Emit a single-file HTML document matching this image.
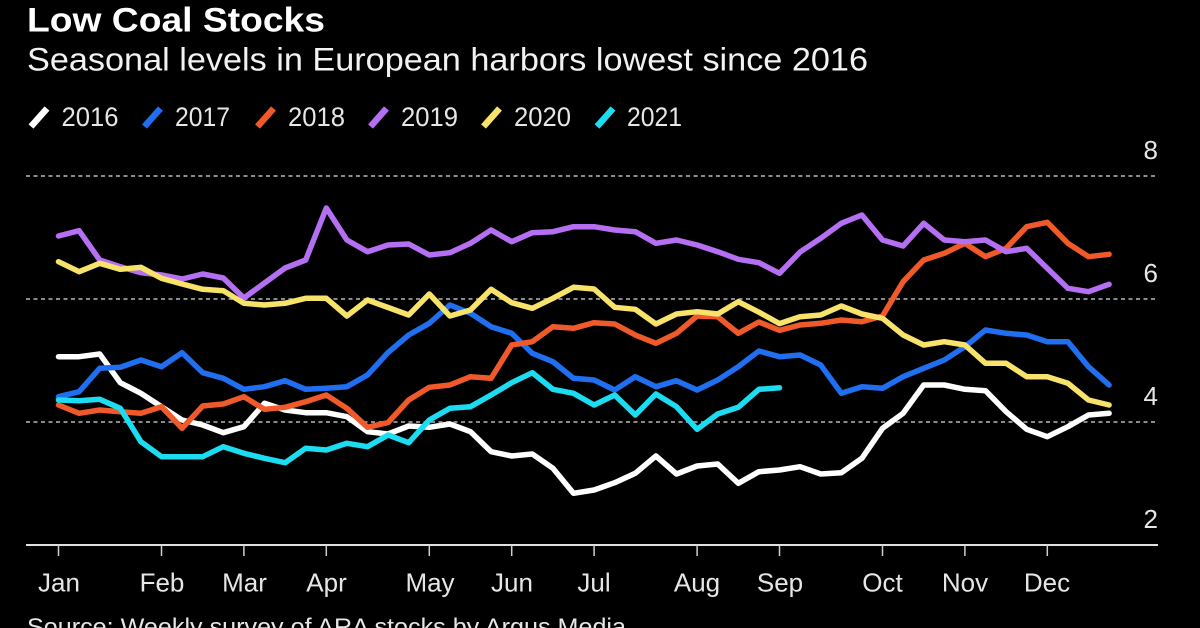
<!DOCTYPE html>
<html>
<head>
<meta charset="utf-8">
<style>
html,body{margin:0;padding:0;background:#000;}
svg{display:block;}
text{font-family:"Liberation Sans",sans-serif;}
</style>
</head>
<body>
<svg width="1200" height="628" viewBox="0 0 1200 628" xmlns="http://www.w3.org/2000/svg">
<rect x="0" y="0" width="1200" height="628" fill="#000"/>

<!-- Title -->
<text x="27" y="31.5" font-size="34" font-weight="bold" fill="#fff" textLength="298" lengthAdjust="spacingAndGlyphs">Low Coal Stocks</text>
<text x="27" y="70.5" font-size="32" fill="#f2f2f2" textLength="841" lengthAdjust="spacingAndGlyphs">Seasonal levels in European harbors lowest since 2016</text>

<!-- Legend -->
<g stroke-width="6.5" stroke-linecap="butt">
  <line x1="31" y1="126.5" x2="47" y2="108.5" stroke="#ffffff"/>
  <line x1="144.5" y1="126.5" x2="160.5" y2="108.5" stroke="#1f6ff0"/>
  <line x1="257.5" y1="126.5" x2="273.5" y2="108.5" stroke="#f05a2a"/>
  <line x1="370.5" y1="126.5" x2="386.5" y2="108.5" stroke="#b56ff2"/>
  <line x1="483.5" y1="126.5" x2="499.5" y2="108.5" stroke="#f7e36a"/>
  <line x1="597" y1="126.5" x2="613" y2="108.5" stroke="#1cdcf2"/>
</g>
<g font-size="27" fill="#e6e6e6">
  <text x="61.5" y="126" textLength="57" lengthAdjust="spacingAndGlyphs">2016</text>
  <text x="175" y="126" textLength="55" lengthAdjust="spacingAndGlyphs">2017</text>
  <text x="288" y="126" textLength="57" lengthAdjust="spacingAndGlyphs">2018</text>
  <text x="401" y="126" textLength="57" lengthAdjust="spacingAndGlyphs">2019</text>
  <text x="514" y="126" textLength="57" lengthAdjust="spacingAndGlyphs">2020</text>
  <text x="627" y="126" textLength="55" lengthAdjust="spacingAndGlyphs">2021</text>
</g>

<!-- Gridlines -->
<g stroke="#8a8a8a" stroke-width="2" stroke-dasharray="4 3.5">
  <line x1="26" y1="176" x2="1158" y2="176"/>
  <line x1="26" y1="299" x2="1158" y2="299"/>
  <line x1="26" y1="422" x2="1158" y2="422"/>
</g>

<!-- Y labels -->
<g font-size="26" fill="#e6e6e6" text-anchor="end">
  <text x="1158" y="159">8</text>
  <text x="1158" y="282">6</text>
  <text x="1158" y="405">4</text>
  <text x="1158" y="528">2</text>
</g>

<!-- X axis -->
<line x1="26" y1="545" x2="1158" y2="545" stroke="#e0e0e0" stroke-width="2"/>
<g stroke="#cfcfcf" stroke-width="1.5">
  <line x1="58.5" y1="545" x2="58.5" y2="556"/>
  <line x1="161.5" y1="545" x2="161.5" y2="556"/>
  <line x1="243.9" y1="545" x2="243.9" y2="556"/>
  <line x1="326.3" y1="545" x2="326.3" y2="556"/>
  <line x1="429.3" y1="545" x2="429.3" y2="556"/>
  <line x1="511.7" y1="545" x2="511.7" y2="556"/>
  <line x1="594.1" y1="545" x2="594.1" y2="556"/>
  <line x1="697.1" y1="545" x2="697.1" y2="556"/>
  <line x1="779.5" y1="545" x2="779.5" y2="556"/>
  <line x1="882.5" y1="545" x2="882.5" y2="556"/>
  <line x1="964.9" y1="545" x2="964.9" y2="556"/>
  <line x1="1047.3" y1="545" x2="1047.3" y2="556"/>
</g>
<g font-size="26" fill="#e6e6e6" text-anchor="middle">
  <text x="59" y="591.5">Jan</text>
  <text x="162" y="591.5">Feb</text>
  <text x="244.5" y="591.5">Mar</text>
  <text x="326.5" y="591.5">Apr</text>
  <text x="430" y="591.5">May</text>
  <text x="512" y="591.5">Jun</text>
  <text x="594" y="591.5">Jul</text>
  <text x="697" y="591.5">Aug</text>
  <text x="780" y="591.5">Sep</text>
  <text x="882.5" y="591.5">Oct</text>
  <text x="965" y="591.5">Nov</text>
  <text x="1047" y="591.5">Dec</text>
</g>

<!-- Source -->
<text x="27" y="635" font-size="24" fill="#e6e6e6" textLength="599" lengthAdjust="spacingAndGlyphs">Source: Weekly survey of ARA stocks by Argus Media</text>

<!-- Series -->
<g fill="none" stroke-width="5.5" stroke-linejoin="round" stroke-linecap="round">
<polyline stroke="#ffffff" points="58.5,356.7 79.1,356.7 99.7,354 120.3,382.7 140.9,393.3 161.5,406.7 182.1,420 202.7,425 223.3,432.7 243.9,426.7 264.5,403.3 285.1,410 305.7,412.7 326.3,412.7 346.9,416.7 367.5,431.7 388.1,434 408.7,426 429.3,427.3 449.9,424 470.5,431.7 491.1,451.7 511.7,456 532.3,454 552.9,468.3 573.5,493.3 594.1,490 614.7,482.7 635.3,473.3 655.9,456 676.5,474 697.1,466 717.7,464 738.3,483.3 758.9,471.7 779.5,470 800.1,466.7 820.7,474 841.3,472.7 861.9,458.3 882.5,428.3 903.1,413.3 923.7,385 944.3,385 964.9,389.3 985.5,390.7 1006.1,411.7 1026.7,429.3 1047.3,436.7 1067.9,426.7 1088.5,415 1109.1,413.3"/>
<polyline stroke="#1f6ff0" points="58.5,396.7 79.1,391.7 99.7,368.3 120.3,367.3 140.9,360 161.5,366.7 182.1,352.7 202.7,372.7 223.3,378.3 243.9,389.3 264.5,386.7 285.1,380.7 305.7,389.3 326.3,388.3 346.9,386.7 367.5,375 388.1,352.5 408.7,335 429.3,323.3 449.9,305 470.5,313.3 491.1,326.7 511.7,333.3 532.3,353.3 552.9,361.7 573.5,378.3 594.1,380 614.7,390 635.3,376.7 655.9,386.7 676.5,380.7 697.1,390 717.7,380 738.3,366.7 758.9,351 779.5,356.7 800.1,355 820.7,365 841.3,393.3 861.9,386.7 882.5,388.3 903.1,376.7 923.7,368.3 944.3,360 964.9,346.7 985.5,330 1006.1,333.3 1026.7,335 1047.3,341.7 1067.9,341.7 1088.5,366.7 1109.1,385"/>
<polyline stroke="#f05a2a" points="58.5,405 79.1,413.3 99.7,410 120.3,411.7 140.9,413.3 161.5,406.7 182.1,428.3 202.7,406 223.3,404 243.9,396.7 264.5,409.3 285.1,407.3 305.7,401.7 326.3,395 346.9,408.3 367.5,427.3 388.1,422.5 408.7,400 429.3,387.3 449.9,385 470.5,376.7 491.1,378.3 511.7,345 532.3,341.7 552.9,326.7 573.5,328.3 594.1,322.7 614.7,324 635.3,335 655.9,343.3 676.5,333.3 697.1,316 717.7,316.7 738.3,333.3 758.9,322 779.5,330.3 800.1,325 820.7,323.3 841.3,320 861.9,321.7 882.5,316 903.1,281.7 923.7,260 944.3,253.3 964.9,243.3 985.5,256.7 1006.1,248.3 1026.7,226.7 1047.3,222.3 1067.9,243.3 1088.5,256.7 1109.1,254.3"/>
<polyline stroke="#b56ff2" points="58.5,236 79.1,230.7 99.7,260 120.3,266.7 140.9,272.7 161.5,275 182.1,279 202.7,274 223.3,278 243.9,298 264.5,283 285.1,268 305.7,260 326.3,208 346.9,240 367.5,251.7 388.1,245 408.7,244 429.3,255 449.9,252.7 470.5,243.3 491.1,230 511.7,241.7 532.3,232.7 552.9,231.7 573.5,226.7 594.1,226.7 614.7,230 635.3,231.7 655.9,243.3 676.5,240 697.1,245 717.7,251.7 738.3,259.3 758.9,262.7 779.5,273.3 800.1,252 820.7,238.3 841.3,223.3 861.9,215 882.5,240 903.1,246 923.7,223.3 944.3,240 964.9,241.7 985.5,240 1006.1,251.7 1026.7,248.3 1047.3,268.3 1067.9,288.3 1088.5,291.7 1109.1,284.3"/>
<polyline stroke="#f7e36a" points="58.5,261.7 79.1,271.7 99.7,263.3 120.3,269.3 140.9,267.3 161.5,278.3 182.1,284 202.7,289.3 223.3,290.7 243.9,303.3 264.5,305 285.1,303.3 305.7,298.3 326.3,298.3 346.9,316 367.5,300 388.1,307.5 408.7,315 429.3,294 449.9,316 470.5,310 491.1,289.3 511.7,302.7 532.3,308.3 552.9,298.3 573.5,287.3 594.1,289 614.7,307.3 635.3,309.3 655.9,324 676.5,314 697.1,311.7 717.7,314 738.3,301.7 758.9,312.2 779.5,323.6 800.1,316.7 820.7,315 841.3,306 861.9,314 882.5,318.3 903.1,335 923.7,345 944.3,341.7 964.9,345 985.5,363.3 1006.1,363.3 1026.7,376.7 1047.3,376.7 1067.9,383.3 1088.5,400 1109.1,405"/>
<polyline stroke="#1cdcf2" points="58.5,400 79.1,400.7 99.7,399.3 120.3,408.3 140.9,441.7 161.5,456.7 182.1,456.7 202.7,456.7 223.3,446.7 243.9,453.3 264.5,458.3 285.1,462.7 305.7,448.3 326.3,450 346.9,443.3 367.5,446.7 388.1,435 408.7,442.7 429.3,420 449.9,408.3 470.5,406.7 491.1,395 511.7,382.7 532.3,372.7 552.9,389.3 573.5,393.3 594.1,405 614.7,395 635.3,415 655.9,394 676.5,406.7 697.1,429.3 717.7,414 738.3,407.3 758.9,389.3 779.5,387.8"/>
</g>
</svg>
</body>
</html>
